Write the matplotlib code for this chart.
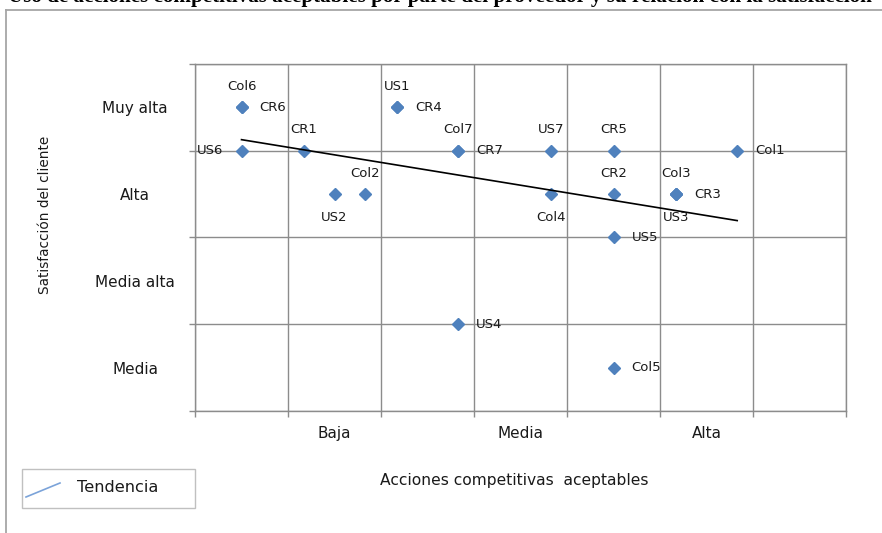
import numpy as np
import matplotlib.pyplot as plt
from matplotlib.lines import Line2D
from matplotlib.patches import Rectangle
from matplotlib.ticker import FixedLocator, NullFormatter

# Point names with their scores (acciones competitivas, satisfacción)
names = ["Col6", "CR6", "US6", "CR1", "US2", "Col2", "US1", "CR4", "Col7", "CR7",
         "US7", "CR5", "Col1", "Col4", "CR2", "Col3", "CR3", "US3", "US5", "US4", "Col5"]
acciones = [0.5, 0.5, 0.5, 1.17, 1.5, 1.83, 2.17, 2.17, 2.83, 2.83,
            3.83, 4.5, 5.83, 3.83, 4.5, 5.17, 5.17, 5.17, 4.5, 2.83, 4.5]
satisfaccion = [3.5, 3.5, 3.0, 3.0, 2.5, 2.5, 3.5, 3.5, 3.0, 3.0,
                3.0, 3.0, 3.0, 2.5, 2.5, 2.5, 2.5, 2.5, 2.0, 1.0, 0.5]
label_side = ["above", "right", "left", "above", "below", "above", "above", "right", "above", "right",
              "above", "above", "right", "below", "above", "above", "right", "below", "right", "right", "right"]

x_ticklabels = ["Baja", "Media", "Alta"]
y_ticklabels = ["Media", "Media alta", "Alta", "Muy alta"]

title = "Uso de acciones competitivas aceptables por parte del proveedor y su relación con la satisfacción"

plt.rcParams['font.family'] = ['DejaVu Sans']
W, H = 882, 533
fig = plt.figure(figsize=(W / 100, H / 100), dpi=100)
fig.patch.set_facecolor('white')

ax = fig.add_axes([195 / W, 1 - 411 / H, (846 - 195) / W, (411 - 64) / H])
grid_c = '#8c8c8c'
text_c = '#1a1a1a'
ax.set_xlim(0, 7)
ax.set_ylim(0, 4)

# integer gridlines, category names centred between them
ax.xaxis.set_major_locator(FixedLocator(np.arange(0, 8)))
ax.yaxis.set_major_locator(FixedLocator(np.arange(0, 5)))
ax.xaxis.set_major_formatter(NullFormatter())
ax.yaxis.set_major_formatter(NullFormatter())
ax.set_xticks([1.5, 3.5, 5.5], minor=True)
ax.set_yticks([0.5, 1.5, 2.5, 3.5], minor=True)
ax.set_xticklabels(x_ticklabels, minor=True)
ax.set_yticklabels(y_ticklabels, minor=True)
ax.tick_params(which='major', length=4.3, width=1, color=grid_c, direction='out')
ax.tick_params(which='minor', length=0)
ax.tick_params(axis='x', which='minor', pad=11, labelsize=11, labelcolor=text_c)
ax.tick_params(axis='y', which='minor', pad=43, labelsize=11, labelcolor=text_c)
for t in ax.get_yticklabels(minor=True):
    t.set_horizontalalignment('center')

ax.grid(True, which='major', color=grid_c, lw=1)
for s in ax.spines.values():
    s.set_color(grid_c)
    s.set_linewidth(1)
ax.set_axisbelow(True)

ax.set_xlabel("Acciones competitivas  aceptables", fontsize=11.2, color=text_c, va='center')
ax.set_ylabel("Satisfacción del cliente", fontsize=9.8, color=text_c, va='center')
ax.xaxis.set_label_coords(0.49, -0.199)
ax.yaxis.set_label_coords(-0.230, 0.565)

# scatter points
ax.plot(acciones, satisfaccion, ls='none', marker='D', ms=6, color='#4f81bd',
        mec='#4f81bd', zorder=3, clip_on=False)

# linear trend across the observed range
xa = np.array(acciones)
ya = np.array(satisfaccion)
slope, intercept = np.polyfit(xa, ya, 1)
xt = np.array([xa.min(), xa.max()])
ax.plot(xt, slope * xt + intercept, color='black', lw=1.2, zorder=4)

# point labels
offsets = {"above": ((0, 15), 'center', 'center'),
           "below": ((0, -16.5), 'center', 'center'),
           "right": ((13, 0), 'left', 'center'),
           "left": ((-13, 0), 'right', 'center')}
for n, xv, yv, side in zip(names, acciones, satisfaccion, label_side):
    off, ha, va = offsets[side]
    ax.annotate(n, (xv, yv), xytext=off, textcoords='offset points',
                ha=ha, va=va, fontsize=9.5, color=text_c, zorder=5)

# outer frame
frame_c = '#a6a6a6'
fig.add_artist(Line2D([6 / W, 1], [1 - 10 / H, 1 - 10 / H], color=frame_c, lw=1.3))
fig.add_artist(Line2D([6 / W, 6 / W], [0, 1 - 10 / H], color=frame_c, lw=1.3))

# legend box
fig.add_artist(Rectangle((22 / W, 1 - 508 / H), 173 / W, 39 / H, fill=False,
                         edgecolor='#c0c0c0', lw=1))
fig.add_artist(Line2D([26 / W, 60 / W], [1 - 497 / H, 1 - 483 / H], color='#7ba3d9', lw=1.2))
fig.text(77 / W, 1 - 487 / H, "Tendencia", fontsize=11.6, va='center', ha='left', color=text_c)

# heading, running off the top edge
tt = fig.text(8 / W, 1 - 2 / H, title, fontsize=12.5, fontweight='bold',
              family=['Liberation Serif', 'DejaVu Serif'], va='baseline', ha='left')
fig.canvas.draw()
bb = tt.get_window_extent()
tt.set_fontsize(12.5 * 867 / bb.width)

fig.savefig('out.png', dpi=100, facecolor='white')
